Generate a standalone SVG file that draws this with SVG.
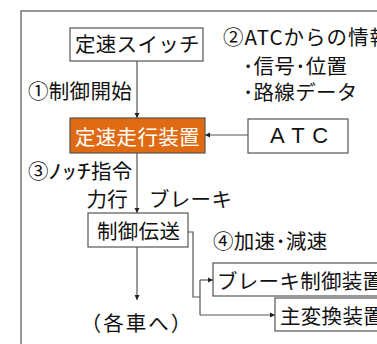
<svg xmlns="http://www.w3.org/2000/svg" width="377" height="344" viewBox="0 0 377 344">
<style>
text{font-family:"Noto Sans CJK JP","Noto Sans CJK SC",sans-serif;font-size:20.5px;letter-spacing:0.3px;fill:#111}
.box{fill:#fff;stroke:#555;stroke-width:1.2}
.ln{fill:none;stroke:#555;stroke-width:1.2}
</style>
<defs>
<marker id="ah" markerWidth="6" markerHeight="6" refX="5" refY="3" orient="auto" markerUnits="userSpaceOnUse">
<path d="M0,0.5 L5,3 L0,5.5 Z" fill="#222"/>
</marker>
</defs>
<rect x="21" y="11" width="400" height="400" fill="none" stroke="#777" stroke-width="1.5"/>
<g id="connectors">
<line class="ln" x1="137" y1="61" x2="137" y2="118" marker-end="url(#ah)"/>
<line class="ln" x1="248" y1="135" x2="205" y2="135" marker-end="url(#ah)"/>
<line class="ln" x1="137" y1="153" x2="137" y2="213" marker-end="url(#ah)"/>
<line class="ln" x1="137" y1="247" x2="137" y2="300" marker-end="url(#ah)"/>
<polyline class="ln" points="188,232 193,232 193,297 200,297"/>
<line class="ln" x1="200" y1="280" x2="200" y2="315"/>
<line class="ln" x1="200" y1="280" x2="213" y2="280" marker-end="url(#ah)"/>
<line class="ln" x1="200" y1="315" x2="275" y2="315" marker-end="url(#ah)"/>
</g>
<g id="switch">
<rect class="box" x="70" y="28" width="133" height="33"/>
<text x="75" y="52">定速スイッチ</text>
</g>
<g id="controller">
<rect x="70" y="118" width="135" height="35" fill="#E06A12" stroke="#555" stroke-width="1.2"/>
<text x="75" y="145" style="fill:#fff">定速走行装置</text>
</g>
<g id="atc">
<rect class="box" x="248" y="119" width="100" height="34"/>
<text x="270" y="143" style="font-family:'Liberation Sans',Arial,sans-serif;font-size:22px;letter-spacing:1px">A T C</text>
</g>
<g id="transmission">
<rect class="box" x="88" y="213" width="100" height="34"/>
<text x="97" y="239">制御伝送</text>
</g>
<g id="brake">
<rect class="box" x="213" y="263" width="180" height="33"/>
<text x="217" y="289">ブレーキ制御装置</text>
</g>
<g id="converter">
<rect class="box" x="275" y="298" width="120" height="33"/>
<text x="280" y="324">主変換装置</text>
</g>
<g id="labels">
<text x="28" y="99">①制御開始</text>
<text x="223" y="45" style="letter-spacing:1px">②ATCからの情報</text>
<text x="243" y="74">･信号･位置</text>
<text x="243" y="100">･路線データ</text>
<text x="28" y="179">③</text>
<text transform="translate(48,179) scale(1.4,1)" x="0" y="0" style="letter-spacing:0">ﾉｯﾁ</text>
<text x="91" y="179">指令</text>
<text x="128" y="207" text-anchor="end">力行</text>
<text x="149" y="207">ブレーキ</text>
<text x="137" y="331" text-anchor="middle" style="letter-spacing:2px">（各車へ）</text>
<text x="213" y="249">④加速･減速</text>
</g>
</svg>
